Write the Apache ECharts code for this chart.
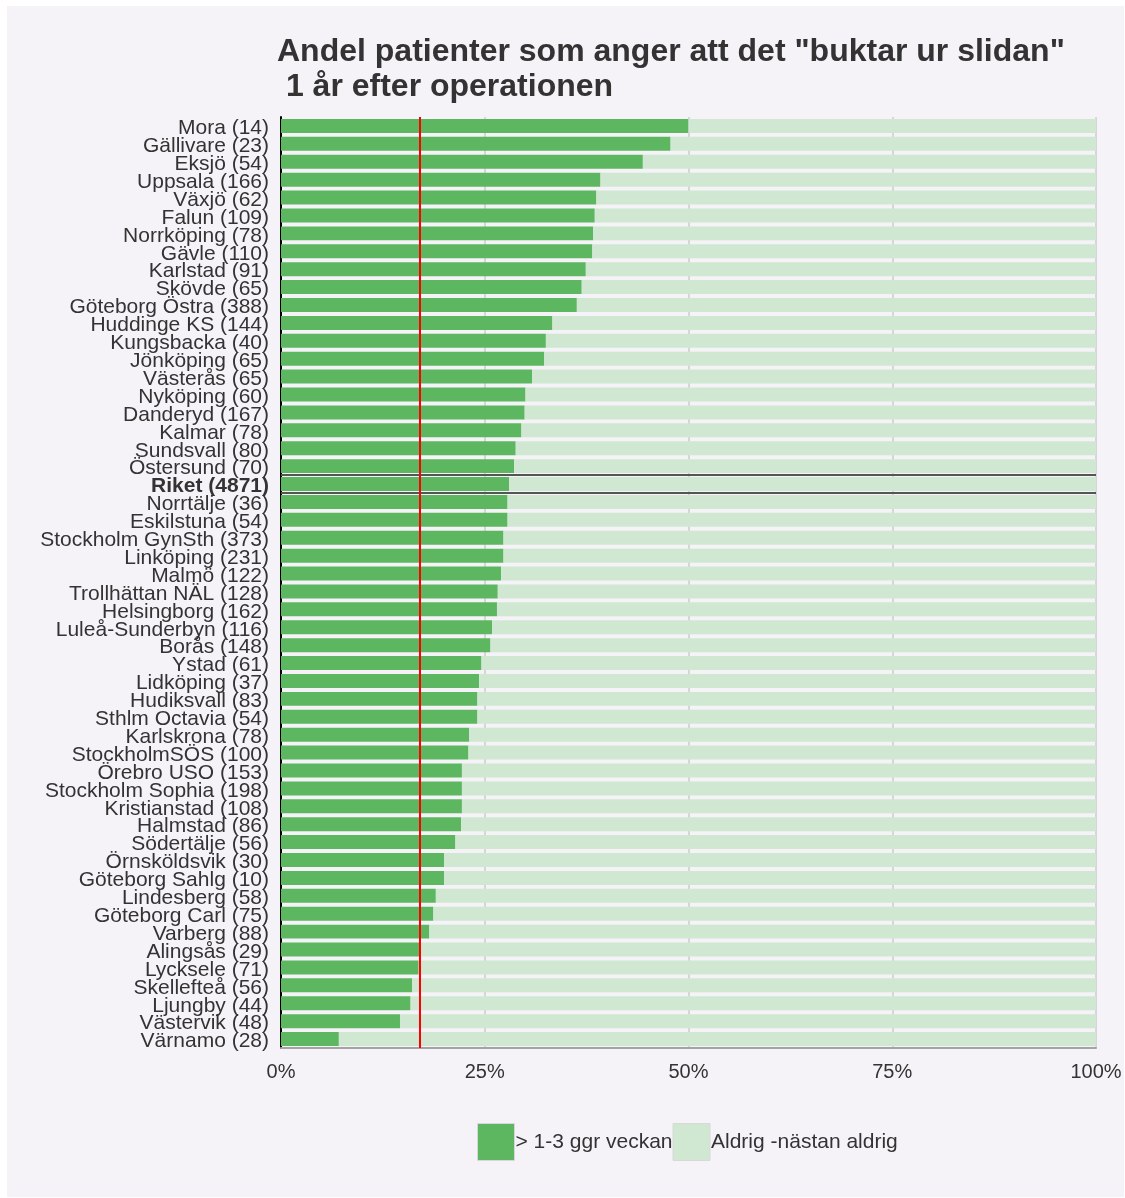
<!DOCTYPE html>
<html>
<head>
<meta charset="utf-8">
<script src="https://cdn.jsdelivr.net/npm/echarts@6/dist/echarts.min.js"></script>
<style>
html,body{margin:0;padding:0;background:#ffffff;}
#wrap{position:absolute;left:7px;top:6px;width:1117px;height:1191px;background:#F5F3F7;}
#chart{position:absolute;left:-7px;top:-6px;width:1125px;height:1198px;}
</style>
</head>
<body>
<div id="wrap"><div id="chart"></div></div>
<script>
const categories = ['Mora (14)','Gällivare (23)','Eksjö (54)','Uppsala (166)','Växjö (62)','Falun (109)','Norrköping (78)','Gävle (110)','Karlstad (91)','Skövde (65)','Göteborg Östra (388)','Huddinge KS (144)','Kungsbacka (40)','Jönköping (65)','Västerås (65)','Nyköping (60)','Danderyd (167)','Kalmar (78)','Sundsvall (80)','Östersund (70)','Riket (4871)','Norrtälje (36)','Eskilstuna (54)','Stockholm GynSth (373)','Linköping (231)','Malmö (122)','Trollhättan NÄL (128)','Helsingborg (162)','Luleå-Sunderbyn (116)','Borås (148)','Ystad (61)','Lidköping (37)','Hudiksvall (83)','Sthlm Octavia (54)','Karlskrona (78)','StockholmSÖS (100)','Örebro USO (153)','Stockholm Sophia (198)','Kristianstad (108)','Halmstad (86)','Södertälje (56)','Örnsköldsvik (30)','Göteborg Sahlg (10)','Lindesberg (58)','Göteborg Carl (75)','Varberg (88)','Alingsås (29)','Lycksele (71)','Skellefteå (56)','Ljungby (44)','Västervik (48)','Värnamo (28)'];
const weeklyPct = [50.0,47.8,44.4,39.2,38.7,38.5,38.3,38.2,37.4,36.9,36.3,33.3,32.5,32.3,30.8,30.0,29.9,29.5,28.8,28.6,28.0,27.8,27.8,27.3,27.3,27.0,26.6,26.5,25.9,25.7,24.6,24.3,24.1,24.1,23.1,23.0,22.2,22.2,22.2,22.1,21.4,20.0,20.0,19.0,18.7,18.2,17.0,16.9,16.1,15.9,14.6,7.1];
const neverPct = weeklyPct.map(v => +(100 - v).toFixed(1));
const seriesNames = ['> 1-3 ggr veckan', 'Aldrig -nästan aldrig'];
const xTicks = [0, 25, 50, 75, 100];
const riketLabel = 'Riket (4871)';
const referenceLine = 17;
const titleText = 'Andel patienter som anger att det "buktar ur slidan"\n 1 år efter operationen';

const riketIdx = categories.indexOf(riketLabel);
const chart = echarts.init(document.getElementById('chart'), null, {renderer: 'canvas'});
const FONT = '"Liberation Sans", Arial, sans-serif';

chart.setOption({
  backgroundColor: 'transparent',
  animation: false,
  title: {
    text: titleText,
    left: 277, top: 35, padding: 0,
    textStyle: {fontFamily: FONT, fontSize: 32, fontWeight: 'bold', color: '#333333', lineHeight: 35}
  },
  legend: {
    data: seriesNames,
    left: 477, top: 1123, padding: 0,
    itemWidth: 37, itemHeight: 37, itemGap: 0,
    icon: 'rect',
    itemStyle: {borderColor: '#d8d8d8', borderWidth: 1},
    textStyle: {fontFamily: FONT, fontSize: 21, color: '#333333', padding: [4, 0, 0, -4]}
  },
  grid: {left: 281, right: 29, top: 117, bottom: 150, containLabel: false},
  xAxis: [{
    type: 'value', min: 0, max: 100, interval: 25,
    axisLine: {show: true, onZero: false, lineStyle: {color: '#a3a3a3', width: 2}},
    axisTick: {show: false},
    splitLine: {show: true, lineStyle: {color: '#d6d6d6', width: 2}},
    axisLabel: {fontFamily: FONT, fontSize: 20, color: '#333333', margin: 14,
      formatter: v => xTicks.includes(v) ? v + '%' : ''}
  }],
  yAxis: [{
    type: 'category', data: categories, inverse: true,
    axisLine: {show: true, onZero: false, lineStyle: {color: '#000000', width: 2}},
    axisTick: {show: false},
    axisLabel: {
      interval: 0,
      fontFamily: FONT, fontSize: 21, color: '#333333', margin: 12,
      padding: [5, 0, 0, 0],
      formatter: v => v === riketLabel ? '{b|' + v + '}' : v,
      rich: {b: {fontFamily: FONT, fontSize: 21, fontWeight: 'bold', color: '#333333'}}
    }
  }, {
    type: 'value', min: 0, max: categories.length, inverse: true, show: false
  }],
  series: [{
    name: seriesNames[0], type: 'bar', stack: 'tot', data: weeklyPct,
    barCategoryGap: '22%',
    itemStyle: {color: '#5DB761'},
    markLine: {
      silent: true, symbol: 'none', label: {show: false},
      lineStyle: {color: '#ff0000', width: 2, type: 'solid'},
      data: [{xAxis: referenceLine}],
      z: 10
    }
  }, {
    name: seriesNames[1], type: 'bar', stack: 'tot', data: neverPct,
    itemStyle: {color: '#D0E8D2'}
  }, {
    name: 'riketBox', type: 'line', yAxisIndex: 1, data: [],
    markLine: {
      silent: true, symbol: 'none', label: {show: false},
      lineStyle: {color: '#555555', width: 2, type: 'solid'},
      data: [{yAxis: riketIdx}, {yAxis: riketIdx + 1}]
    }
  }]
});
</script>
</body>
</html>
